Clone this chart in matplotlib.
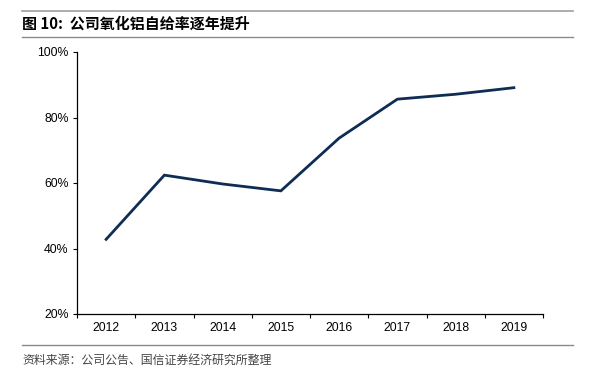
import numpy as np
import matplotlib.pyplot as plt
from matplotlib.lines import Line2D
from matplotlib.ticker import FuncFormatter, FixedLocator

plt.rcParams['font.family'] = ['Liberation Sans', 'Noto Sans CJK SC', 'DejaVu Sans']

# data
years = ['2012', '2013', '2014', '2015', '2016', '2017', '2018', '2019']
self_supply = [42.8, 62.4, 59.7, 57.6, 73.7, 85.6, 87.1, 89.1]   # %

title = '图 10:  公司氧化铝自给率逐年提升'
source = '资料来源：公司公告、国信证券经济研究所整理'

fig = plt.figure(figsize=(5.89, 3.80), dpi=100)
ax = fig.add_axes([77/589, 1 - 314/380, (543-77)/589, (314-52)/380])

x = np.arange(len(years))
ax.plot(x, self_supply, color='#0e2c54', lw=2.0, solid_joinstyle='miter')

ax.set_xlim(-0.5, len(years) - 0.5)
ax.set_ylim(20, 100)
ax.set_yticks([20, 40, 60, 80, 100])
ax.yaxis.set_major_formatter(FuncFormatter(lambda v, p: f'{v:.0f}%'))

# categories between ticks
ax.xaxis.set_major_locator(FixedLocator(np.arange(len(years) + 1) - 0.5))
ax.xaxis.set_minor_locator(FixedLocator(x))
ax.set_xticklabels([])
ax.set_xticklabels(years, minor=True)
ax.tick_params(axis='x', which='major', direction='out', length=3, width=0.8)
ax.tick_params(axis='x', which='minor', length=0, pad=6, labelsize=8.8)
ax.tick_params(axis='y', direction='out', length=3, width=0.8, labelsize=8.8, pad=3)

for s in ['top', 'right']:
    ax.spines[s].set_visible(False)
for s in ['left', 'bottom']:
    ax.spines[s].set_linewidth(0.9)

# header / footer
fig.add_artist(Line2D([22/589, 573/589], [1 - 11/380, 1 - 11/380], color='#a0a0a0', lw=1.2))
fig.add_artist(Line2D([22/589, 573/589], [1 - 37/380, 1 - 37/380], color='#8a8a8a', lw=1.0))
fig.text(22/589, 1 - 24/380, title, fontsize=10.8, fontweight='bold', va='center', ha='left',
         family=['Noto Sans CJK SC', 'DejaVu Sans'])
fig.add_artist(Line2D([22/589, 573/589], [1 - 345/380, 1 - 345/380], color='#8a8a8a', lw=1.0))
fig.text(22/589, 1 - 360/380, source, fontsize=8.6, va='center', ha='left', color='#444444',
         family=['Noto Sans CJK SC', 'DejaVu Sans'])

fig.savefig('out.png', dpi=100)
